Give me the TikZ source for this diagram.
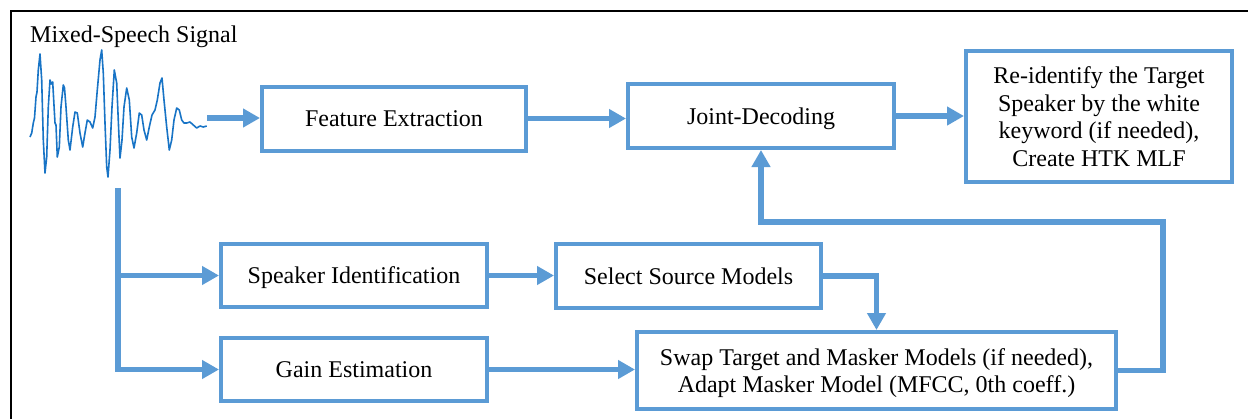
\documentclass[tikz,border=0pt]{standalone}
\usepackage{fontspec}
\setmainfont{Liberation Serif}
\usetikzlibrary{arrows.meta,calc}
\definecolor{flowblue}{HTML}{5B9BD5}
\definecolor{wavecol}{HTML}{1874C6}
\begin{document}
\begin{tikzpicture}[x=1pt,y=-1pt,
  blk/.style={draw=flowblue,line width=4pt,fill=white,inner sep=0pt,align=center,
    text depth=0pt,font=\fontsize{24}{27.5}\selectfont},
  link/.style={draw=flowblue,line width=5.5pt},
  flow/.style={link,-{Triangle[length=17pt,width=18pt]}}]
\useasboundingbox (0,0) rectangle (1248,418);
\fill[white] (0,0) rectangle (1248,418);
% outer frame (only its top and left sides fall inside the page)
\draw[line width=2.5pt] (11,430) -- (11,11) -- (1260,11);

% title and waveform
\node[anchor=base west,inner sep=0pt,font=\fontsize{24}{27.5}\selectfont] (title) at (30,42) {Mixed-Speech Signal};
\draw[wavecol,line width=1.6pt,line join=round]
  (30,137) -- (31.7,133) -- (33.3,123) -- (34.5,118) -- (36,97) -- (37,92) -- (38.3,70) -- (40,54) -- (41.7,80)
  -- (43.3,140) -- (45,173) -- (46.7,157) -- (48.3,107) -- (50,80) -- (51.3,84) -- (52.7,82)
  -- (55,123) -- (56,125) -- (57.3,157) -- (59.3,147) -- (61,107) -- (63.3,85) -- (64.5,88) -- (66,107)
  -- (68.3,140) -- (70,150) -- (72.7,127) -- (75,112) -- (77.3,113) -- (80,133)
  -- (82.7,147) -- (85,133) -- (87.3,120) -- (90,122) -- (92.7,128) -- (95,117)
  -- (97.3,90) -- (100,60) -- (101.7,50) -- (103.3,73) -- (105,123) -- (106.7,167)
  -- (108,177) -- (110,150) -- (112,107) -- (114.3,70) -- (116.7,83) -- (118.7,130)
  -- (120,158) -- (122,140) -- (124,107) -- (126.7,88) -- (129.3,100) -- (131.7,137)
  -- (134,148) -- (136.7,133) -- (139.3,113) -- (141.7,115) -- (144,130) -- (146.7,140)
  -- (149.3,127) -- (152,115) -- (155,110) -- (157.3,100) -- (160,83) -- (162,78)
  -- (164,100) -- (166.7,127) -- (169.3,150) -- (171.7,140) -- (174,120) -- (176.7,108)
  -- (179.3,110) -- (181.7,120) -- (184,123) -- (186.7,123) -- (190,122) -- (193.3,125)
  -- (196.7,128) -- (200,126) -- (203.3,127) -- (206.7,126);
\coordinate (waveout) at (207,118);
\coordinate (tap) at (118,188);

% processing blocks
\node[blk,minimum width=264pt,minimum height=64pt] (fe) at (394,118.5) {Feature Extraction};
\node[blk,minimum width=266pt,minimum height=64pt] (jd) at (761,116) {Joint-Decoding};
\node[blk,minimum width=266pt,minimum height=131pt] (rid) at (1099,116.5)
  {Re-identify the Target\\Speaker by the white\\keyword (if needed),\\Create HTK MLF};
\node[blk,minimum width=266pt,minimum height=63pt] (spk) at (354,275.5) {Speaker Identification};
\node[blk,minimum width=266pt,minimum height=63pt] (gain) at (354,369.5) {Gain Estimation};
\node[blk,minimum width=265pt,minimum height=64pt] (sel) at (688.5,276) {Select Source Models};
\node[blk,minimum width=479pt,minimum height=77pt] (swap) at (876.5,370.5)
  {Swap Target and Masker Models (if needed),\\Adapt Masker Model (MFCC, 0th coeff.)};
\coordinate (fb) at (1163,222);

% connectors
\draw[flow] (waveout) -- (waveout -| fe.west);
\draw[flow] (fe.east) -- (fe.east -| jd.west);
\draw[flow] (jd.east) -- (jd.east -| rid.west);
\draw[flow] (tap) |- (spk.west);
\draw[flow] (tap) |- (gain.west);
\draw[flow] (spk.east) -- (spk.east -| sel.west);
\draw[flow] (gain.east) -- (gain.east -| swap.west);
\draw[flow] (sel.east) -| (swap.north);
\draw[flow] (swap.east) -| (fb) -| (jd.south);
\end{tikzpicture}
\end{document}
